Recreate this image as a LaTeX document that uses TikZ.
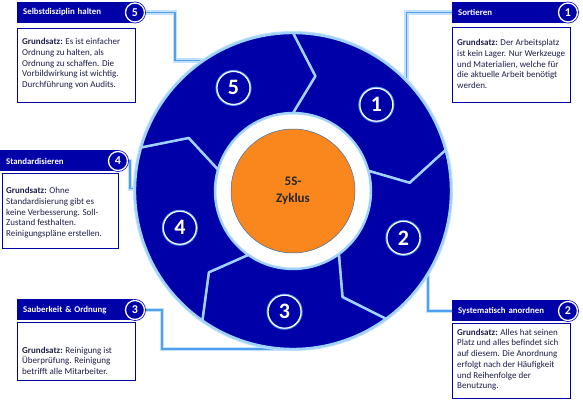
\documentclass[tikz,border=0pt]{standalone}
\usepackage{fontspec}
\setmainfont{Carlito}
\usetikzlibrary{positioning}

\definecolor{navy}{RGB}{0,0,168}
\definecolor{segline}{RGB}{160,210,255}
\definecolor{linkblue}{RGB}{80,160,240}
\definecolor{glowblue}{RGB}{195,225,255}
\definecolor{coreorange}{RGB}{250,135,30}
\definecolor{bodytext}{RGB}{30,30,75}

\begin{document}
\begin{tikzpicture}[
		x=1pt,y=1pt,
		seg/.style={fill=navy,draw=segline,line width=2.4pt,line join=round},
		link/.style={draw=linkblue,line width=1.5pt,preaction={draw=glowblue,line width=4.5pt}},
		head/.style={fill=navy,text=white,anchor=west,minimum height=21pt,text width=104pt,inner xsep=6pt,align=left,font=\bfseries\fontsize{8.8}{10}\selectfont},
		numc/.style={circle,fill=navy,draw=white,line width=1.3pt,minimum size=19pt,inner sep=0pt,text=white,font=\bfseries\fontsize{12}{12}\selectfont,preaction={draw=navy,line width=2.8pt}},
		body/.style={draw=navy,line width=0.8pt,fill=white,minimum width=118pt,inner sep=0pt},
		txt/.style={inner sep=0pt,align=left,text=bodytext,font=\fontsize{9}{10.7}\selectfont},
		ringnum/.style={circle,fill=navy,draw=white,line width=1.2pt,minimum size=33pt,inner sep=0pt,text=white,font=\bfseries\fontsize{22}{22}\selectfont,preaction={draw=linkblue,line width=3pt}}
		]
		\useasboundingbox (0,0) rectangle (583,401);
		\coordinate (c) at (293,210);
		
		% points where the links meet the ring
		\begin{scope}[shift={(c)}]
			\coordinate (ring1) at (43.8:157);
			\coordinate (ring2) at (-30.6:157);
			\coordinate (ring3) at (-90:158);
			\coordinate (ring4) at (179:157);
			\coordinate (ring5) at (123.9:157);
		\end{scope}
		
		% headers
		\node[head] (h5) at (17,388.5) {Selbstdisziplin halten};
		\node[head] (h1) at (452,388.5) {Sortieren};
		\node[head,text width=106pt] (h4) at (0,240) {Standardisieren};
		\node[head] (h3) at (17,91) {Sauberkeit \& Ordnung};
		\node[head] (h2) at (452,90) {Systematisch anordnen};
		
		% links
		\draw[link] (135,388.5) -- ++(40,0) |- (ring5);
		\draw[link] (h1.west) -| (ring1);
		\draw[link] (118,240) -- ++(12,0) |- (ring4);
		\draw[link] (135,91) -- ++(27,0) |- (ring3);
		\draw[link] (h2.west) -| (ring2);
		
		\node[numc] (n5) at (135,388.5) {5};
		\node[numc] (n1) at (568,388.5) {1};
		\node[numc] (n4) at (118,240) {4};
		\node[numc] (n3) at (135,91) {3};
		\node[numc] (n2) at (568,90) {2};
		
		% text boxes
		\node[body,minimum height=74pt,below right=5pt and 0pt of h5.south west] (b5) {};
		\node[body,minimum height=75pt,below right=4pt and 0pt of h1.south west] (b1) {};
		\node[body,minimum width=116pt,minimum height=75pt,below right=1.5pt and 2pt of h4.south west] (b4) {};
		\node[body,minimum height=75pt,below right=1.5pt and 0pt of h2.south west] (b2) {};
		\node[body,minimum height=58pt,below right=1.5pt and 0pt of h3.south west] (b3) {};
		
		\node[txt,below right=10pt and 5pt of b5.north west] (t5) {\textbf{Grundsatz:} Es ist einfacher\\Ordnung zu halten, als\\Ordnung zu schaffen. Die\\Vorbildwirkung ist wichtig.\\Durchführung von Audits.};
		\node[txt,below right=12pt and 5pt of b1.north west] (t1) {\textbf{Grundsatz:} Der Arbeitsplatz\\ist kein Lager. Nur Werkzeuge\\und Materialien, welche für\\die aktuelle Arbeit benötigt\\werden.};
		\node[txt,below right=14pt and 4pt of b4.north west] (t4) {\textbf{Grundsatz:} Ohne\\Standardisierung gibt es\\keine Verbesserung. Soll-\\Zustand festhalten.\\Reinigungspläne erstellen.};
		\node[txt,below right=5.5pt and 5pt of b2.north west] (t2) {\textbf{Grundsatz:} Alles hat seinen\\Platz und alles befindet sich\\auf diesem. Die Anordnung\\erfolgt nach der Häufigkeit\\und Reihenfolge der\\Benutzung.};
		\node[txt,below right=24.5pt and 5pt of b3.north west] (t3) {\textbf{Grundsatz:} Reinigung ist\\Überprüfung. Reinigung\\betrifft alle Mitarbeiter.};
		
		% cycle ring
		\begin{scope}[shift={(c)}]
			\fill[glowblue] (0,0) circle[radius=160];
			\foreach \a/\b in {90/15,15/-54,-54/-125,-125/-196,164/90}
			\filldraw[seg] (\a:158) arc[start angle=\a,end angle=\b,radius=158]
			-- ({\b-11}:117) -- (\b:78)
			arc[start angle=\b,end angle=\a,radius=78]
			-- ({\a-11}:117) -- cycle;
			\fill[white] (0,0) circle[radius=76.5];
			\node[ringnum] (r1) at (46:120) {1};
			\node[ringnum] (r2) at (-23:120) {2};
			\node[ringnum] (r3) at (-94:121) {3};
			\node[ringnum] (r4) at (198:119) {4};
			\node[ringnum] (r5) at (120:119) {5};
		\end{scope}
		\node[circle,fill=coreorange,draw=linkblue!70!black,line width=0.5pt,minimum size=124pt,align=center,font=\bfseries\fontsize{13}{17}\selectfont,text=black!85] (core) at (c) {5S-\\Zyklus};
	\end{tikzpicture}
\end{document}
